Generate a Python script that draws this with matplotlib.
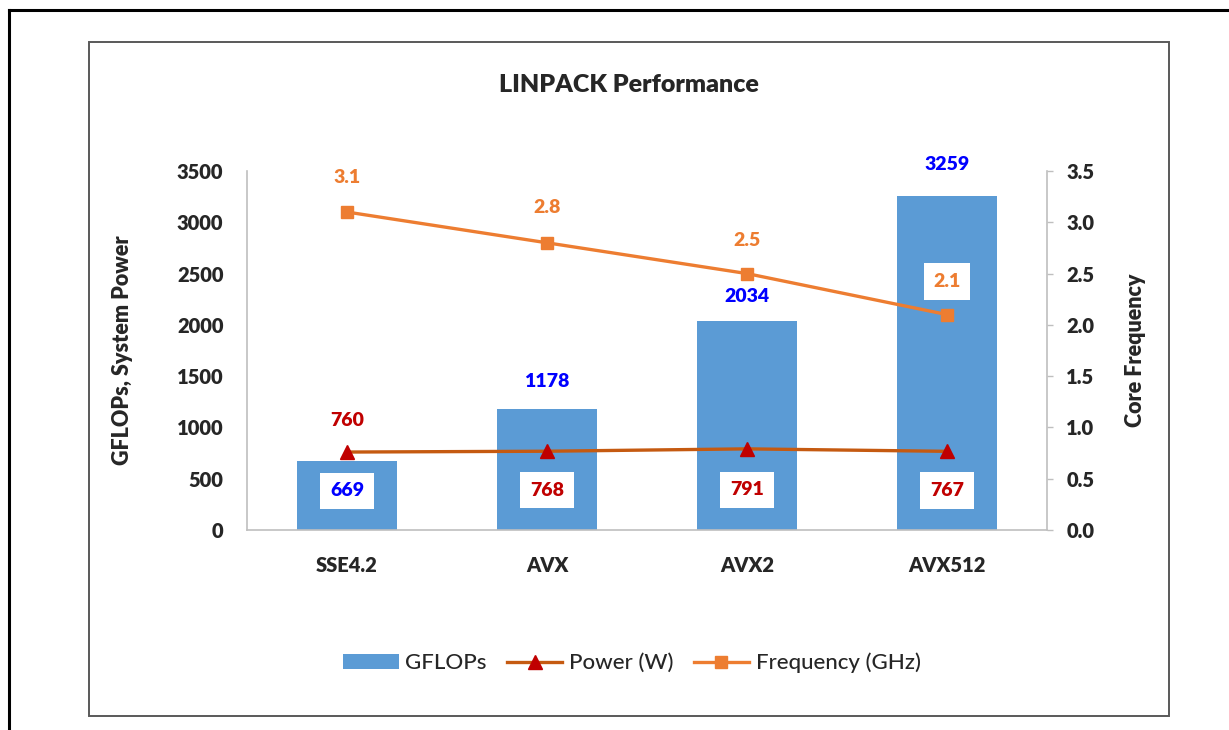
import matplotlib
matplotlib.use('Agg')

import matplotlib.pyplot as plt
from matplotlib.patches import Rectangle
from matplotlib.lines import Line2D

plt.rcParams['font.family'] = ['Lato', 'DejaVu Sans']

isa = ['SSE4.2', 'AVX', 'AVX2', 'AVX512']
gflops = [669, 1178, 2034, 3259]
power = [760, 768, 791, 767]
freq = [3.1, 2.8, 2.5, 2.1]

# label placement per point: pixel offset from the mark, and whether it gets a white box
gflops_lbl = [('base', True), ((0, 28), False), ((0, 25), False), ((0, 31), False)]
power_lbl = [((0, 32), False), ((0, -39), True), ((0, -41), True), ((0, -39), True)]
freq_lbl = [((0, 35), False), ((0, 35), False), ((0, 33), False), ((0, 33), True)]

BLUE = '#5B9BD5'
RUST = '#C55A11'
DARKRED = '#C00000'
ORANGE = '#ED7D31'
AXGREY = '#BFBFBF'
INK = '#262626'
HEAVY = 800

fig = plt.figure(figsize=(12.29, 7.30), dpi=100)

# outer frame (only top and left edges show) and the chart box
fig.add_artist(Line2D([9 / 1229, 1], [1 - 10 / 730, 1 - 10 / 730], color='black', lw=2.2,
                      transform=fig.transFigure))
fig.add_artist(Line2D([9 / 1229, 9 / 1229], [1 - 10 / 730, 0], color='black', lw=2.2,
                      transform=fig.transFigure))
fig.add_artist(Rectangle((89 / 1229, 1 - 716 / 730), 1080 / 1229, 674 / 730, fill=False,
                         edgecolor='#595959', lw=1.4, transform=fig.transFigure))

ax = fig.add_axes([247 / 1229, 1 - 530 / 730, 800 / 1229, 359 / 730])
ax2 = ax.twinx()

x = range(len(isa))
bars = ax.bar(x, gflops, width=0.5, color=BLUE, label='GFLOPs', zorder=1)
pline, = ax.plot(x, power, color=RUST, lw=2.4, marker='^', markersize=10, markerfacecolor=DARKRED,
                 markeredgecolor=DARKRED, label='Power (W)', zorder=3)
fline, = ax2.plot(x, freq, color=ORANGE, lw=2.4, marker='s', markersize=9, markerfacecolor=ORANGE,
                  markeredgecolor=ORANGE, label='Frequency (GHz)')

ax.set_xlim(-0.5, len(isa) - 0.5)
ax.set_ylim(0, 3500)
ax2.set_ylim(0, 3.5)
ax.set_yticks(range(0, 3501, 500))
ax2.set_yticks([i * 0.5 for i in range(8)])
ax2.set_yticklabels(['%.1f' % (i * 0.5) for i in range(8)])
ax.set_xticks(list(x))
ax.set_xticklabels(isa)

for lbl in ax.get_xticklabels() + ax.get_yticklabels() + ax2.get_yticklabels():
    lbl.set_fontsize(14.5)
    lbl.set_fontweight(HEAVY)
    lbl.set_color(INK)

ax.tick_params(axis='x', length=0, pad=19)
ax.tick_params(axis='y', length=0, pad=17)
ax2.tick_params(axis='y', length=4, width=1, color=AXGREY, direction='out', pad=10)

for a in (ax, ax2):
    a.spines['top'].set_visible(False)
    for s in ('left', 'right', 'bottom'):
        a.spines[s].set_color(AXGREY)
        a.spines[s].set_linewidth(1.2)
ax.spines['right'].set_visible(False)
ax2.spines['left'].set_visible(False)
ax2.spines['bottom'].set_visible(False)

ax.set_ylabel('GFLOPs, System Power', fontsize=15.5, fontweight=HEAVY, color=INK)
ax2.set_ylabel('Core Frequency', fontsize=15.5, fontweight=HEAVY, color=INK)
ax.yaxis.set_label_coords(-0.1425, 0.5)
ax2.yaxis.set_label_coords(1.0975, 0.5)

box = dict(boxstyle='square,pad=0.5', facecolor='white', edgecolor='none')


def put_label(axis, xi, yi, text, where, boxed, color):
    if where == 'base':
        xy, off = (xi, 0), (0, 39)
    else:
        xy, off = (xi, yi), where
    axis.annotate(text, xy, xytext=off, textcoords='offset pixels',
                  ha='center', va='center', fontsize=14, fontweight=HEAVY, color=color,
                  bbox=box if boxed else None, zorder=5)


for i, v in enumerate(gflops):
    put_label(ax, i, v, str(v), gflops_lbl[i][0], gflops_lbl[i][1], '#0000FF')
for i, v in enumerate(power):
    put_label(ax, i, v, str(v), power_lbl[i][0], power_lbl[i][1], DARKRED)
for i, v in enumerate(freq):
    put_label(ax2, i, v, '%.1f' % v, freq_lbl[i][0], freq_lbl[i][1], ORANGE)

fig.text(629 / 1229, 1 - 85 / 730, 'LINPACK Performance', ha='center', va='center',
         fontsize=18, fontweight=HEAVY, color=INK)

fig.legend([bars, pline, fline], ['GFLOPs', 'Power (W)', 'Frequency (GHz)'], loc='center',
           bbox_to_anchor=(632 / 1229, 1 - 663 / 730), ncol=3, frameon=False,
           prop=dict(size=16, weight=500), handlelength=2.5, handleheight=0.6,
           handletextpad=0.3, columnspacing=0.9, labelcolor=INK)

plt.savefig('out.png', dpi=100)
